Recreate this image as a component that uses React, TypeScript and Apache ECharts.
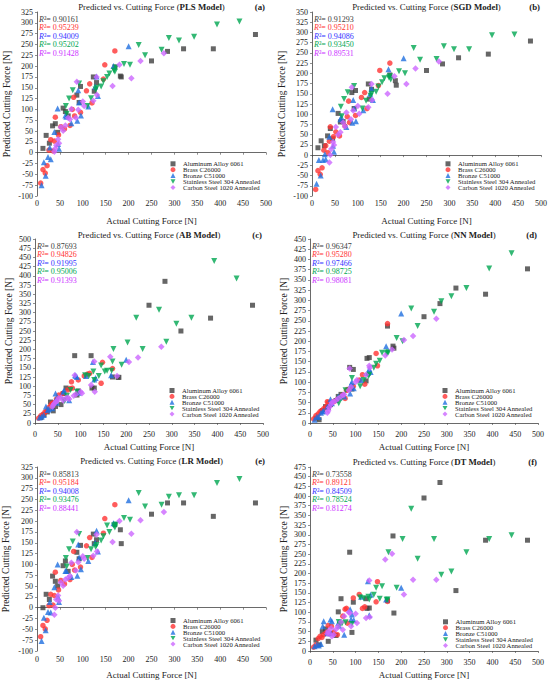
import React, { useEffect, useRef } from "react";
import * as echarts from "echarts";

const MATERIALS = [
  "Aluminum Alloy 6061",
  "Brass C26000",
  "Bronze C51000",
  "Stainless Steel 304 Annealed",
  "Carbon Steel 1020 Annealed",
];
const MODELS = ["PLS Model", "SGD Model", "AB Model", "NN Model", "LR Model", "DT Model"];
const TAGS = ["(a)", "(b)", "(c)", "(d)", "(e)", "(f)"];

// Actual cutting force (x) per material
const AL_X = [13, 20, 27, 34, 40, 45, 57, 62, 68, 87, 92, 95, 123, 125, 130, 170, 182, 184, 250, 285, 320, 385, 477];
const BR_X = [8, 13, 18, 22, 26, 30, 35, 38, 40, 47, 52, 60, 72, 77, 80, 82, 95, 108, 115, 120, 145, 148, 170];
const BZ_X = [10, 15, 19, 24, 28, 30, 38, 45, 46, 48, 62, 64, 75, 88, 90, 92, 96, 112, 127, 130, 133, 167, 200];
const SS_X = [63, 65, 70, 78, 92, 110, 118, 128, 130, 140, 145, 153, 158, 168, 170, 172, 190, 203, 222, 236, 272, 288, 310, 343, 393, 442];
const CS_X = [38, 40, 42, 46, 48, 52, 57, 62, 68, 72, 75, 85, 87, 90, 100, 103, 123, 130, 131, 165, 180, 206, 226, 277];

// Predicted values: PLS
const PLS_AL = [10, 40, 22, 62, 67, 47, 103, 95, 85, 133, 116, 153, 175, 142, 162, 198, 177, 175, 212, 234, 240, 240, 273];
const PLS_BR = [-70, -39, -47, -30, 6, 30, 4, 27, 82, 41, 60, 55, 63, 100, 128, 85, 93, 143, 159, 115, 170, 203, 235];
const PLS_BZ = [-75, -22, -53, -10, 12, -15, 48, 102, 20, 9, 86, 83, 68, 74, 144, 116, 86, 107, 153, 176, 131, 200, 246];
const PLS_SS = [108, 90, 125, 144, 160, 108, 126, 146, 150, 153, 165, 175, 183, 190, 187, 197, 205, 203, 249, 225, 238, 265, 259, 268, 296, 303];
const PLS_CS = [2, 10, 17, 31, 22, 59, 51, 63, 81, 77, 101, 81, 164, 99, 118, 108, 120, 175, 133, 154, 203, 172, 212, 230];
// SGD
const SGD_AL = [18, 35, 23, 47, 65, 40, 102, 81, 82, 153, 114, 158, 174, 137, 161, 196, 182, 171, 207, 223, 238, 247, 279];
const SGD_BR = [-84, -38, -47, -31, 12, 23, 6, 34, 69, 45, 57, 47, 71, 94, 132, 80, 97, 141, 153, 114, 170, 207, 225];
const SGD_BZ = [-70, -12, -50, -12, 2, -10, 45, 112, 23, 8, 88, 93, 69, 79, 135, 114, 83, 110, 150, 163, 135, 210, 237];
const SGD_SS = [118, 95, 137, 154, 169, 114, 133, 145, 150, 155, 168, 178, 188, 190, 193, 185, 205, 200, 262, 233, 235, 266, 259, 259, 293, 295];
const SGD_CS = [-18, 0, 15, 32, 25, 69, 50, 56, 80, 70, 104, 88, 166, 109, 120, 101, 117, 174, 135, 150, 193, 174, 212, 229];
// AB
const AB_AL = [15, 22, 30, 57, 33, 45, 50, 80, 95, 183, 76, 87, 183, 95, 95, 125, 124, 124, 320, 385, 250, 285, 320];
const AB_BR = [13, 20, 24, 30, 33, 42, 49, 53, 55, 65, 76, 80, 90, 94, 112, 95, 117, 128, 133, 135, 108, 165, 148];
const AB_BZ = [15, 18, 22, 45, 35, 38, 40, 80, 65, 55, 85, 88, 62, 130, 128, 125, 82, 128, 166, 118, 122, 130, 172];
const AB_SS = [62, 60, 74, 90, 85, 130, 128, 140, 117, 128, 156, 140, 142, 142, 167, 201, 158, 219, 286, 201, 308, 221, 270, 286, 440, 393];
const AB_CS = [44, 49, 53, 58, 60, 67, 69, 61, 67, 69, 65, 74, 130, 78, 85, 81, 103, 167, 85, 180, 128, 166, 178, 207];
// NN
const NN_AL = [12, 8, 30, 40, 38, 45, 55, 65, 70, 136, 83, 131, 103, 158, 160, 237, 188, 183, 260, 292, 330, 315, 377];
const NN_BR = [10, 18, 22, 28, 30, 35, 40, 52, 50, 48, 52, 58, 68, 60, 80, 82, 90, 105, 118, 95, 170, 140, 243];
const NN_BZ = [8, 15, 15, 25, 28, 30, 40, 58, 50, 48, 65, 62, 65, 72, 95, 100, 85, 105, 122, 132, 125, 188, 268];
const NN_SS = [48, 60, 62, 80, 110, 90, 105, 115, 118, 135, 145, 152, 172, 170, 172, 173, 208, 200, 280, 237, 272, 298, 310, 330, 378, 415];
const NN_CS = [25, 30, 38, 45, 50, 52, 55, 60, 65, 68, 70, 80, 133, 88, 100, 105, 118, 140, 135, 165, 180, 203, 213, 255];
// LR
const LR_AL = [0, 31, 19, 73, 61, 50, 97, 108, 84, 128, 113, 144, 170, 148, 157, 192, 180, 148, 216, 242, 242, 211, 242];
const LR_BR = [-67, -41, -49, -29, 5, 31, 6, 28, 82, 41, 63, 55, 65, 100, 130, 87, 94, 143, 162, 116, 172, 206, 238];
const LR_BZ = [-77, -23, -52, -10, 13, -11, 47, 100, 25, 13, 85, 85, 71, 74, 146, 116, 89, 108, 150, 178, 130, 195, 248];
const LR_SS = [115, 95, 135, 153, 170, 115, 135, 140, 145, 155, 165, 190, 175, 190, 185, 192, 207, 203, 265, 234, 238, 256, 260, 260, 288, 297];
const LR_CS = [-16, 0, 19, 28, 16, 58, 51, 65, 69, 73, 104, 86, 175, 105, 119, 113, 120, 169, 130, 152, 200, 171, 202, 221];
// DT
const DT_AL = [28, 16, 50, 57, 25, 45, 40, 101, 135, 255, 48, 126, 135, 110, 111, 130, 297, 98, 395, 435, 156, 286, 286];
const DT_BR = [10, 16, 32, 38, 35, 42, 46, 49, 66, 64, 49, 42, 90, 108, 110, 72, 137, 146, 110, 114, 127, 179, 128];
const DT_BZ = [12, 16, 14, 18, 64, 77, 46, 81, 46, 77, 72, 65, 42, 108, 82, 94, 80, 140, 180, 92, 145, 133, 163];
const DT_SS = [75, 68, 71, 74, 70, 138, 136, 140, 133, 145, 163, 135, 167, 132, 133, 255, 163, 289, 367, 238, 289, 197, 205, 255, 289, 299];
const DT_CS = [45, 51, 46, 59, 38, 42, 56, 64, 75, 55, 90, 100, 98, 64, 96, 72, 85, 182, 88, 236, 251, 146, 184, 184];

// R² values per model (same material order)
const R2_PLS = ["0.90161", "0.95239", "0.94009", "0.95202", "0.91428"];
const R2_SGD = ["0.91293", "0.95210", "0.94086", "0.93450", "0.89531"];
const R2_AB = ["0.87693", "0.94826", "0.91995", "0.95006", "0.91393"];
const R2_NN = ["0.96347", "0.95280", "0.97466", "0.98725", "0.98081"];
const R2_LR = ["0.85813", "0.95184", "0.94008", "0.93476", "0.88441"];
const R2_DT = ["0.73558", "0.89121", "0.84509", "0.78524", "0.81274"];

// y-axis ranges per model
const Y_MIN = [-100, -100, 0, 0, -100, 0];
const Y_MAX = [325, 350, 500, 450, 325, 475];
const X_MIN = 0;
const X_MAX = 500;
const X_STEP = 50;
const Y_STEP = 25;

const X_ARRAYS = [AL_X, BR_X, BZ_X, SS_X, CS_X];
const PRED = [
  [PLS_AL, PLS_BR, PLS_BZ, PLS_SS, PLS_CS],
  [SGD_AL, SGD_BR, SGD_BZ, SGD_SS, SGD_CS],
  [AB_AL, AB_BR, AB_BZ, AB_SS, AB_CS],
  [NN_AL, NN_BR, NN_BZ, NN_SS, NN_CS],
  [LR_AL, LR_BR, LR_BZ, LR_SS, LR_CS],
  [DT_AL, DT_BR, DT_BZ, DT_SS, DT_CS],
];
const R2 = [R2_PLS, R2_SGD, R2_AB, R2_NN, R2_LR, R2_DT];

const FONT = "'Liberation Serif', 'Times New Roman', serif";
const MARK_COLORS = ["#404040", "#ff3333", "#1f6fe0", "#00a651", "#cc66ff"];
const TEXT_COLORS = ["#404040", "#ff3333", "#3333ff", "#00a651", "#cc33ff"];
const SYMBOLS = ["rect", "circle", "triangle", "path://M0,0L10,0L5,8.66Z", "diamond"];
const SYMBOL_SIZES = [5, 5.5, 6, 6, 6.5];

const GRIDS = [
  { left: 37, top: 12, width: 229, height: 184 },
  { left: 312, top: 12, width: 229, height: 184 },
  { left: 35, top: 239, width: 228, height: 184 },
  { left: 310, top: 239, width: 228, height: 184 },
  { left: 37, top: 467, width: 229, height: 184 },
  { left: 310, top: 467, width: 228, height: 184 },
];
const TITLE_Y = [7, 7, 235, 235, 460.5, 462];
const X_LABEL_MARGIN = [3, 3, 7, 7, 4, 7];
const X_NAME_GAP = [20.5, 20.5, 19.5, 19.5, 19.5, 19.5];
const Y_NAME_GAP = [25, 25, 21, 21, 26, 21];
const LEGEND_POS = [
  { left: 170.5, top: 160.3 },
  { left: 445.5, top: 160.3 },
  { left: 169.5, top: 387 },
  { left: 442.5, top: 387 },
  { left: 170.5, top: 617 },
  { left: 443, top: 618.3 },
];

export default function App() {
  const ref = useRef<HTMLDivElement>(null);

  useEffect(() => {
    document.body.style.margin = "0";
    if (!ref.current) return;
    const chart = echarts.init(ref.current, undefined, { renderer: "svg" });

    const xAxis: any[] = [];
    const yAxis: any[] = [];
    const series: any[] = [];
    const graphic: any[] = [];
    const legend: any[] = [];

    GRIDS.forEach((g, i) => {
      xAxis.push({
        type: "value",
        gridIndex: i,
        min: X_MIN,
        max: X_MAX,
        interval: X_STEP,
        name: "Actual Cutting Force [N]",
        nameLocation: "middle",
        nameGap: X_NAME_GAP[i],
        nameTextStyle: { fontFamily: FONT, fontSize: 9, color: "#222" },
        axisLine: { lineStyle: { color: "#444", width: 0.8 } },
        axisTick: { length: 2, lineStyle: { color: "#444", width: 0.6 } },
        axisLabel: { fontFamily: FONT, fontSize: 8, color: "#222", margin: X_LABEL_MARGIN[i] },
        splitLine: { show: false },
      });
      yAxis.push({
        type: "value",
        gridIndex: i,
        min: Y_MIN[i],
        max: Y_MAX[i],
        interval: Y_STEP,
        name: "Predicted Cutting Force [N]",
        nameLocation: "middle",
        nameGap: Y_NAME_GAP[i],
        nameTextStyle: { fontFamily: FONT, fontSize: 9.5, color: "#222" },
        axisLine: { show: true, lineStyle: { color: "#444", width: 0.8 } },
        axisTick: { show: true, length: 2, lineStyle: { color: "#444", width: 0.6 } },
        axisLabel: { fontFamily: FONT, fontSize: 8, color: "#222", margin: 4 },
        splitLine: { show: false },
      });
      MATERIALS.forEach((m, k) => {
        const xs = X_ARRAYS[k];
        const ys = PRED[i][k];
        series.push({
          type: "scatter",
          name: m,
          xAxisIndex: i,
          yAxisIndex: i,
          symbol: SYMBOLS[k],
          symbolSize: SYMBOL_SIZES[k],
          itemStyle: { color: MARK_COLORS[k] },
          data: xs.map((x, j) => [x, ys[j]]),
        });
      });
      // panel title
      graphic.push({
        type: "text",
        x: g.left + g.width / 2,
        y: TITLE_Y[i],
        style: {
          text: "Predicted vs. Cutting Force ({b|" + MODELS[i] + "})",
          fontFamily: FONT,
          fontSize: 8.8,
          fill: "#222",
          align: "center",
          verticalAlign: "middle",
          rich: { b: { fontFamily: FONT, fontSize: 8.8, fontWeight: "bold", fill: "#222" } },
        },
      });
      graphic.push({
        type: "text",
        x: g.left + g.width - 1,
        y: TITLE_Y[i],
        style: {
          text: TAGS[i],
          fontFamily: FONT,
          fontSize: 8.8,
          fontWeight: "bold",
          fill: "#222",
          align: "right",
          verticalAlign: "middle",
        },
      });
      // R² annotations
      R2[i].forEach((v, k) => {
        graphic.push({
          type: "text",
          x: g.left + 2,
          y: g.top + 7 + k * 8.5,
          style: {
            text: "{i|R}{n|²= " + v + "}",
            fontFamily: FONT,
            fontSize: 8,
            fill: TEXT_COLORS[k],
            align: "left",
            verticalAlign: "middle",
            rich: {
              i: { fontFamily: FONT, fontSize: 8, fontStyle: "italic", fill: TEXT_COLORS[k] },
              n: { fontFamily: FONT, fontSize: 8, fill: TEXT_COLORS[k] },
            },
          },
        });
      });
      legend.push({
        orient: "vertical",
        left: LEGEND_POS[i].left,
        top: LEGEND_POS[i].top,
        padding: 0,
        itemWidth: 5,
        itemHeight: 5,
        itemGap: -1.1,
        selectedMode: false,
        data: MATERIALS,
        textStyle: { fontFamily: FONT, fontSize: 6.7, color: "#222", padding: [0, 0, 0, 2.5] },
      });
    });

    chart.setOption({
      animation: false,
      backgroundColor: "#ffffff",
      grid: GRIDS.map((g) => ({ ...g, containLabel: false })),
      xAxis,
      yAxis,
      series,
      legend,
      graphic,
    });

    return () => {
      chart.dispose();
    };
  }, []);

  return <div ref={ref} style={{ width: 550, height: 683 }} />;
}
